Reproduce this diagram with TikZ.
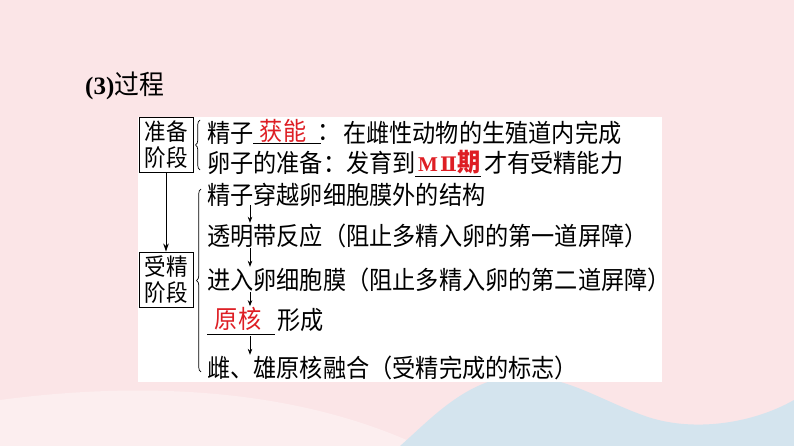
\documentclass[tikz,border=0pt]{standalone}
\usepackage{fontspec}
\setmainfont{Liberation Serif}
\newfontfamily\cjk[FakeStretch=0.92]{Noto Sans CJK SC}
\newfontfamily\romnum{DejaVu Serif}
\usetikzlibrary{arrows.meta,decorations.pathreplacing,calc}
\definecolor{bgpink}{RGB}{251,229,231}
\definecolor{wavblue}{RGB}{212,228,238}
\definecolor{keyred}{RGB}{222,30,36}
\tikzset{
  txt/.style={anchor=west, inner sep=0pt, font=\cjk\fontsize{25.2}{29}\selectfont},
  keytxt/.style={inner sep=0pt, text=keyred, font=\cjk\fontsize{25.2}{29}\selectfont},
  stagebox/.style={draw, line width=0.9pt, minimum width=54pt, minimum height=55pt, inner sep=0pt,
    align=center, font=\cjk\fontsize{23.4}{26}\selectfont},
  smallarr/.style={-{Stealth[length=6pt,width=4.5pt]}, line width=0.7pt},
  bigarr/.style={-{Stealth[length=8pt,width=5.5pt]}, line width=0.9pt},
  blank/.style={line width=0.8pt},
  bracestyle/.style={line width=0.7pt, decorate, decoration={brace, amplitude=4.5pt}}
}
\begin{document}
\begin{tikzpicture}[x=1pt, y=-1pt]
\useasboundingbox (0,0) rectangle (794,446);
% background
\fill[bgpink] (0,0) rectangle (794,446);
\fill[white, opacity=0.35] (0,400) .. controls (150,380) and (300,390) .. (420,446) -- (0,446) -- cycle;
\fill[wavblue] (794,400) .. controls (750,425) and (690,432) .. (645,416)
  .. controls (600,400) and (570,378) .. (525,376)
  .. controls (470,374) and (430,420) .. (400,446) -- (794,446) -- cycle;
\fill[white] (138,117) rectangle (662,382);
% title
\node[anchor=west, inner sep=0pt] (title) at (85,86)
  {\fontsize{25}{29}\selectfont\bfseries (3)\mdseries\cjk\fontsize{27}{29}\selectfont 过程};
% stage boxes
\node[stagebox] (prep) at (166,144.5) {准备\\阶段};
\node[stagebox] (fert) at (166,279.5) {受精\\阶段};
\draw[bigarr] (prep.south) -- (fert.north);
% line 1
\node[txt] (l1a) at (207,133) {精子};
\node[keytxt] (l1k) at (283,131) {获能};
\coordinate (u1s) at (253,143);
\coordinate (u1e) at (321,143);
\draw[blank] (u1s) -- (u1e);
\node[txt] (l1c) at (317,133) {：};
\node[txt] (l1b) at (343,133) {在雌性动物的生殖道内完成};
% line 2
\node[txt] (l2a) at (207,163) {卵子的准备：发育到};
\node[keytxt, anchor=west] (l2k) at (418,162)
  {{\rmfamily\bfseries\fontsize{21}{24}\selectfont M\kern2pt}{\romnum\bfseries\fontsize{20}{24}\selectfont Ⅱ\kern1pt}\bfseries 期};
\coordinate (u2s) at (415,176);
\coordinate (u2e) at (481,176);
\draw[blank] (u2s) -- (u2e);
\node[txt] (l2b) at (484,163) {才有受精能力};
% fertilisation steps
\node[txt] (l3) at (207,195) {精子穿越卵细胞膜外的结构};
\node[txt] (l4) at (207,236) {透明带反应（阻止多精入卵的第一道屏障）};
\node[txt] (l5) at (207,280) {进入卵细胞膜（阻止多精入卵的第二道屏障）};
\node[keytxt] (l6k) at (238,319) {原核};
\coordinate (u6s) at (207,334);
\coordinate (u6e) at (275,334);
\draw[blank] (u6s) -- (u6e);
\node[txt] (l6) at (277,320) {形成};
\node[txt] (l7) at (207,368) {雌、雄原核融合（受精完成的标志）};
% small arrows
\coordinate (ax) at (250,0);
\draw[smallarr] ($(l3.south -| ax)+(0,-2)$) -- ($(l4.north -| ax)+(0,-1)$);
\draw[smallarr] ($(l4.south -| ax)+(0,0)$) -- ($(l5.north -| ax)+(0,-1)$);
\draw[smallarr] ($(l5.south -| ax)+(0,0)$) -- ($(l6k.north -| ax)+(0,-1)$);
\draw[smallarr] ($(u6s -| ax)+(0,2)$) -- ($(l7.north -| ax)+(0,-1)$);
% braces
\coordinate (b1t) at (200,120);
\coordinate (b1b) at (200,170);
\draw[bracestyle] (b1b) -- (b1t);
\coordinate (b2t) at (201,189);
\coordinate (b2b) at (201,372);
\draw[bracestyle] (b2b) -- (b2t);
\end{tikzpicture}
\end{document}
